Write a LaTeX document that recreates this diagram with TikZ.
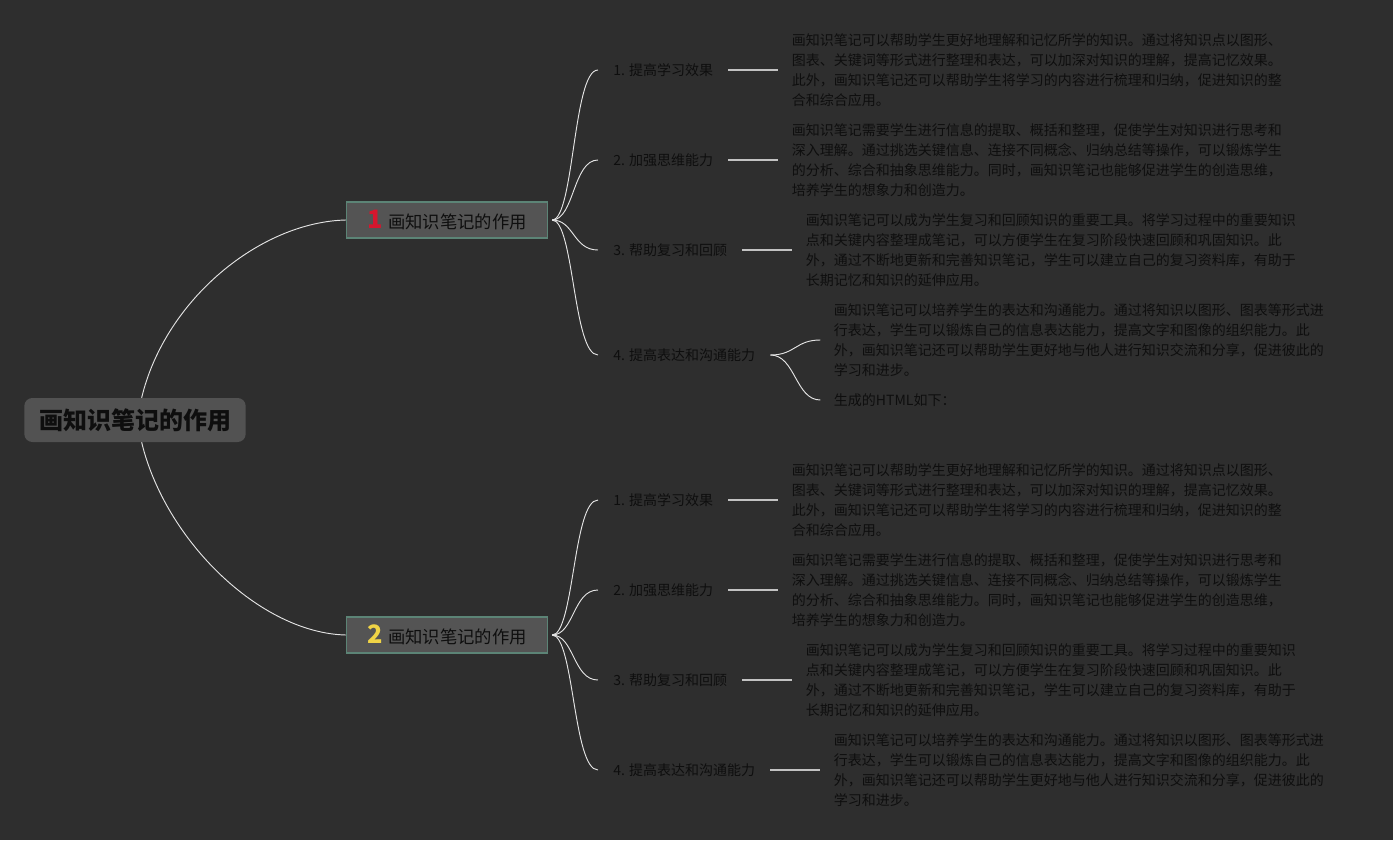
\documentclass[tikz,border=0pt]{standalone}
\usepackage{fontspec}
\setmainfont{Noto Sans CJK SC}
\usepackage{tikz}
\usetikzlibrary{positioning}
\definecolor{bgdark}{RGB}{46,46,46}
\definecolor{rootfill}{RGB}{82,82,82}
\definecolor{topfill}{RGB}{84,84,84}
\definecolor{topedge}{RGB}{92,132,118}
\definecolor{inkdark}{RGB}{14,14,14}
\definecolor{wire}{RGB}{228,228,228}
\definecolor{numred}{RGB}{214,22,46}
\definecolor{numyellow}{RGB}{240,212,70}

\begin{document}
\begin{tikzpicture}[x=0.75pt,y=-0.75pt,
		rootbox/.style={draw=none,fill=rootfill,rounded corners=6pt,minimum width=166pt,minimum height=33pt,
			font=\fontsize{18pt}{20pt}\selectfont\bfseries,text=inkdark},
		topbox/.style={draw=topedge,line width=0.9pt,fill=topfill,minimum width=150.75pt,minimum height=27pt,
			inner xsep=10pt,font=\fontsize{13pt}{15pt}\selectfont,text=inkdark},
		subtopic/.style={anchor=west,inner xsep=11.25pt,inner ysep=2pt,font=\fontsize{10.5pt}{15pt}\selectfont,text=inkdark},
		leaftext/.style={inner xsep=10pt,inner ysep=1pt,align=left,font=\fontsize{10.5pt}{15pt}\selectfont,text=inkdark},
		link/.style={draw=wire,line width=0.7pt},
		stub/.style={draw=wire!85!black,line width=1.2pt}]
				\fill[bgdark] (0,0) rectangle (1393,840);
				\useasboundingbox (0,0) rectangle (1393,840);

				% root and the two main topics
				\node[rootbox] (root) at (135,420) {画知识笔记的作用};
				\node[topbox] (topA) at (447,220) {\textcolor{numred}{\fontsize{19pt}{16pt}\selectfont\bfseries 1}\hspace{4pt}画知识笔记的作用};
				\node[topbox] (topB) at (447,635) {\textcolor{numyellow}{\fontsize{19pt}{16pt}\selectfont\bfseries 2}\hspace{4pt}画知识笔记的作用};
				\draw[link] ([xshift=5pt]root.north) .. controls (165,300) and (260,222) .. (topA.west);
				\draw[link] ([xshift=5pt]root.south) .. controls (165,540) and (260,633) .. (topB.west);

				% first topic
				\node[subtopic] (a1) at (598,70) {1. 提高学习效果};
				\node[subtopic] (a2) at (598,160) {2. 加强思维能力};
				\node[subtopic] (a3) at (598,250) {3. 帮助复习和回顾};
				\node[subtopic] (a4) at (598,355) {4. 提高表达和沟通能力};
				\foreach \s in {a1,a2,a3,a4}
					\draw[link] ([xshift=3pt]topA.east) .. controls +(22,0) and +(-25,0) .. (\s.west);

				\node[leaftext,right=37.5pt of a1] (a1t) {画知识笔记可以帮助学生更好地理解和记忆所学的知识。通过将知识点以图形、\\图表、关键词等形式进行整理和表达，可以加深对知识的理解，提高记忆效果。\\此外，画知识笔记还可以帮助学生将学习的内容进行梳理和归纳，促进知识的整\\合和综合应用。};
				\node[leaftext,right=37.5pt of a2] (a2t) {画知识笔记需要学生进行信息的提取、概括和整理，促使学生对知识进行思考和\\深入理解。通过挑选关键信息、连接不同概念、归纳总结等操作，可以锻炼学生\\的分析、综合和抽象思维能力。同时，画知识笔记也能够促进学生的创造思维，\\培养学生的想象力和创造力。};
				\node[leaftext,right=37.5pt of a3] (a3t) {画知识笔记可以成为学生复习和回顾知识的重要工具。将学习过程中的重要知识\\点和关键内容整理成笔记，可以方便学生在复习阶段快速回顾和巩固知识。此\\外，通过不断地更新和完善知识笔记，学生可以建立自己的复习资料库，有助于\\长期记忆和知识的延伸应用。};
				\node[leaftext,right=37.5pt of a4,yshift=11.25pt] (a4t) {画知识笔记可以培养学生的表达和沟通能力。通过将知识以图形、图表等形式进\\行表达，学生可以锻炼自己的信息表达能力，提高文字和图像的组织能力。此\\外，画知识笔记还可以帮助学生更好地与他人进行知识交流和分享，促进彼此的\\学习和进步。};
				\node[leaftext,right=37.5pt of a4,yshift=-33.75pt] (a4h) {生成的HTML如下：};
				\draw[stub] (a1.east) -- (a1t.west);
				\draw[stub] (a2.east) -- (a2t.west);
				\draw[stub] (a3.east) -- (a3t.west);
				\draw[link] (a4.east) .. controls +(25,0) and +(-25,0) .. (a4t.west);
				\draw[link] (a4.east) .. controls +(25,0) and +(-25,0) .. (a4h.west);

				% second topic
				\node[subtopic] (b1) at (598,500) {1. 提高学习效果};
				\node[subtopic] (b2) at (598,590) {2. 加强思维能力};
				\node[subtopic] (b3) at (598,680) {3. 帮助复习和回顾};
				\node[subtopic] (b4) at (598,770) {4. 提高表达和沟通能力};
				\foreach \s in {b1,b2,b3,b4}
					\draw[link] ([xshift=3pt]topB.east) .. controls +(22,0) and +(-25,0) .. (\s.west);

				\node[leaftext,right=37.5pt of b1] (b1t) {画知识笔记可以帮助学生更好地理解和记忆所学的知识。通过将知识点以图形、\\图表、关键词等形式进行整理和表达，可以加深对知识的理解，提高记忆效果。\\此外，画知识笔记还可以帮助学生将学习的内容进行梳理和归纳，促进知识的整\\合和综合应用。};
				\node[leaftext,right=37.5pt of b2] (b2t) {画知识笔记需要学生进行信息的提取、概括和整理，促使学生对知识进行思考和\\深入理解。通过挑选关键信息、连接不同概念、归纳总结等操作，可以锻炼学生\\的分析、综合和抽象思维能力。同时，画知识笔记也能够促进学生的创造思维，\\培养学生的想象力和创造力。};
				\node[leaftext,right=37.5pt of b3] (b3t) {画知识笔记可以成为学生复习和回顾知识的重要工具。将学习过程中的重要知识\\点和关键内容整理成笔记，可以方便学生在复习阶段快速回顾和巩固知识。此\\外，通过不断地更新和完善知识笔记，学生可以建立自己的复习资料库，有助于\\长期记忆和知识的延伸应用。};
				\node[leaftext,right=37.5pt of b4] (b4t) {画知识笔记可以培养学生的表达和沟通能力。通过将知识以图形、图表等形式进\\行表达，学生可以锻炼自己的信息表达能力，提高文字和图像的组织能力。此\\外，画知识笔记还可以帮助学生更好地与他人进行知识交流和分享，促进彼此的\\学习和进步。};
				\draw[stub] (b1.east) -- (b1t.west);
				\draw[stub] (b2.east) -- (b2t.west);
				\draw[stub] (b3.east) -- (b3t.west);
				\draw[stub] (b4.east) -- (b4t.west);
			\end{tikzpicture}
\end{document}
